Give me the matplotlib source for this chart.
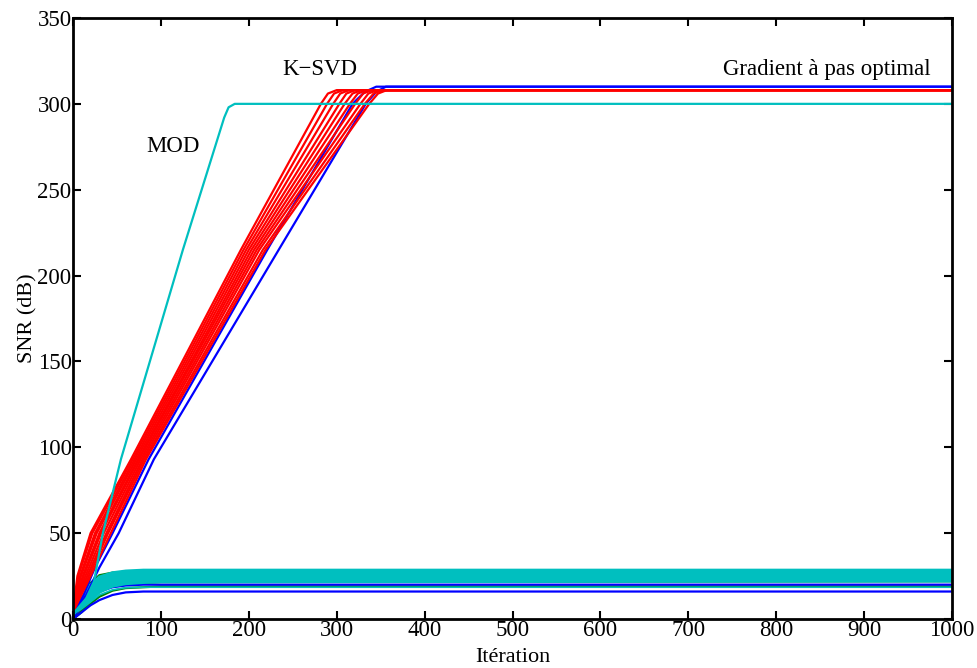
import numpy as np
import matplotlib
matplotlib.use('Agg')
import matplotlib.pyplot as plt

# K-SVD runs (red): SNR levels and the iteration at which each run reaches them
ksvd_levels = [4, 25, 50, 93, 215, 300, 306, 308, 308]
ksvd_x = [
    [0, 5, 20, 66, 191, 282, 290, 300, 1000],
    [0, 6, 22, 68, 194, 289, 297, 307, 1000],
    [0, 8, 25, 70, 197, 296, 304, 314, 1000],
    [0, 9, 27, 72, 200, 303, 311, 321, 1000],
    [0, 11, 30, 74, 203, 309, 318, 328, 1000],
    [0, 12, 32, 75, 206, 315, 324, 334, 1000],
    [0, 14, 35, 77, 209, 321, 330, 340, 1000],
    [0, 16, 38, 79, 212, 327, 336, 346, 1000],
    [0, 18, 40, 81, 216, 332, 342, 352, 1000],
    [0, 20, 43, 83, 219, 337, 347, 357, 1000],
]

# gradient a pas optimal (blue)
grad_levels = [3, 14, 30, 50, 93, 215, 300, 307, 310, 310]
grad_x = [
    [0, 12, 25, 45, 86, 221, 318, 332, 345, 1000],
    [0, 15, 30, 52, 92, 234, 333, 345, 356, 1000],
]

# MOD (cyan, fast)
mod_x = [0, 15, 24, 34, 54.5, 125, 172, 177, 184, 1000]
mod_y = [3, 12, 22, 50, 93, 215, 292, 298, 300, 300]

# low curves reaching a plateau early
low_x = [0, 10, 20, 30, 45, 60, 80, 100, 1000]
low_green = [
    [1, 12, 21, 25.5, 27, 27.5, 27.5, 27.5, 28],
    [1, 9, 18, 23, 25.5, 26, 26.5, 26.5, 27],
    [0, 5, 11, 16, 19, 20, 21, 21.5, 22],
    [0, 4, 9, 13, 16.5, 18, 18.5, 19, 19],
]
low_cyan = [
    [2, 12, 20, 24.5, 27, 28, 28.5, 28.5, 28.5],
    [3, 11, 19, 23.5, 26.2, 27.2, 27.7, 27.8, 27.8],
    [3, 10, 18, 22.5, 25.4, 26.4, 27, 27.1, 27.1],
    [3, 10, 17, 21.5, 24.6, 25.6, 26.2, 26.4, 26.4],
    [3, 9, 16, 20.5, 23.8, 24.8, 25.4, 25.6, 25.7],
    [3, 9, 15, 19.5, 23, 24, 24.6, 24.9, 25],
    [3, 8, 14, 18.5, 22, 23.2, 23.8, 24.1, 24.2],
    [3, 8, 13, 17.5, 21, 22.4, 23, 23.3, 23.5],
    [3, 7, 12, 16.5, 20, 21.6, 22.2, 22.5, 22.8],
    [3, 7, 11, 15.5, 19, 20.5, 21.2, 21.6, 22],
    [3, 6, 10, 14, 17, 18.2, 18.5, 18.5, 18.5],
]
low_blue = [
    [1, 7, 12, 16, 18.5, 19.5, 20, 20, 20],
    [0, 4, 8, 11, 14, 15.5, 16, 16, 16],
]

plt.rcParams['font.family'] = ['Liberation Serif', 'DejaVu Serif']

fig = plt.figure(figsize=(9.78, 6.68), dpi=100)
ax = fig.add_axes([73 / 978, 1 - 619 / 668, (952 - 73) / 978, (619 - 18) / 668])

lw = 1.6
cyan = (0, 0.75, 0.75)
green = (0, 0.5, 0)
for ys in low_green:
    ax.plot(low_x, ys, color=green, lw=lw)
for ys in low_blue:
    ax.plot(low_x, ys, color='blue', lw=lw)
for ys in low_cyan[:-1]:
    ax.plot(low_x, ys, color=cyan, lw=2.0)
ax.plot(low_x, low_cyan[-1], color=cyan, lw=1.2)
for xs in grad_x:
    ax.plot(xs, grad_levels, color='blue', lw=lw)
for xs in ksvd_x:
    ax.plot(xs, ksvd_levels, color='red', lw=lw)
ax.plot(mod_x, mod_y, color=cyan, lw=lw)

# annotations
ax.text(114, 275, 'MOD', fontsize=16.5, ha='center', va='center')
ax.text(281, 320, 'K\u2212SVD', fontsize=16.5, ha='center', va='center')
ax.text(858, 320, 'Gradient à pas optimal', fontsize=16.5, ha='center', va='center')

ax.set_xlim(0, 1000)
ax.set_ylim(0, 350)
ax.set_xticks(np.arange(0, 1001, 100))
ax.set_yticks(np.arange(0, 351, 50))
ax.tick_params(direction='in', top=True, right=True, length=6, width=1.5,
               labelsize=16.5, pad=1)
for s in ax.spines.values():
    s.set_linewidth(2)
ax.set_xlabel('Itération', fontsize=16, labelpad=5)
ax.set_ylabel('SNR (dB)', fontsize=16, labelpad=0)

fig.savefig('out.png', dpi=100)
